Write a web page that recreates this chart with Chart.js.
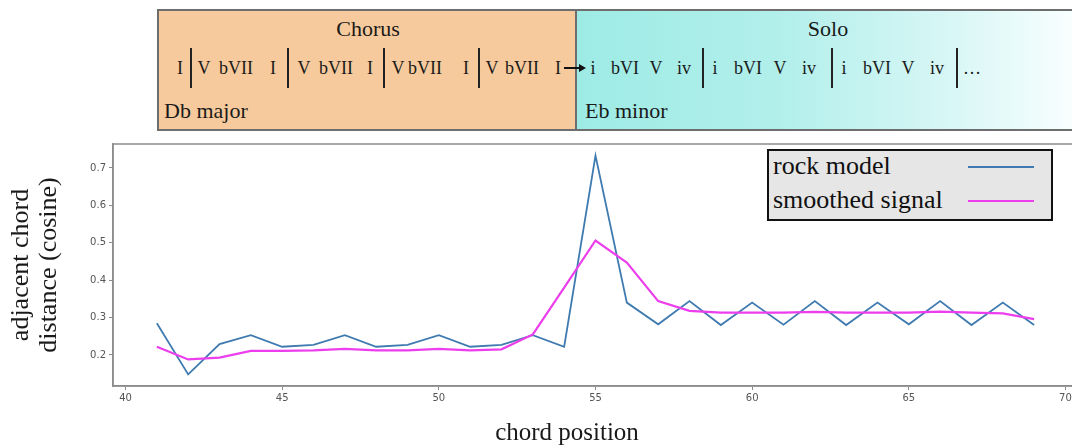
<!DOCTYPE html>
<html>
<head>
<meta charset="utf-8">
<script src="https://cdn.jsdelivr.net/npm/chart.js@4.4.1/dist/chart.umd.min.js"></script>
<style>
  html, body { margin: 0; padding: 0; width: 1072px; height: 448px; overflow: hidden; background: #fff; }
  .abs { position: absolute; }
  .serif { font-family: 'Liberation Serif', 'DejaVu Serif', serif; color: #1a1a1a; }
  #chorusBox { left: 157px; top: 9px; width: 420px; height: 122px; background: #f6ca9c; border: 2px solid #6e6e6e; box-sizing: border-box; }
  #soloBox { left: 575px; top: 9px; width: 510px; height: 122px; border: 2px solid #6e6e6e; box-sizing: border-box;
    background: linear-gradient(90deg, #9eebe5 0%, #b2efeb 40%, #d9f7f6 75%, #fbffff 100%); }
  .sectionTitle { font-size: 22px; transform: translate(-50%, -50%); }
  .keyName { font-size: 22px; transform: translateY(-50%); }
  .chord { font-size: 18px; transform: translate(-50%, -50%); top: 68px; white-space: nowrap; }
  .bar { width: 1.6px; top: 48px; height: 40px; background: #222; }
  #chartWrap { left: 0; top: 0; width: 1090px; height: 448px; }
  #legendBox { left: 767px; top: 149px; width: 286px; height: 72px; background: #e6e6e6; border: 2px solid #111; box-sizing: border-box; }
  .legendRow { position: absolute; left: 4px; font-family: 'Liberation Serif', serif; font-size: 26px; color: #111; white-space: nowrap; transform: translateY(-50%); }
  .legendLine { position: absolute; left: 199px; width: 66px; height: 2px; transform: translateY(-50%); }
  #xTitle { left: 567px; top: 432px; font-size: 25px; transform: translate(-50%, -50%); white-space: nowrap; }
</style>
</head>
<body>
<div id="chartWrap" class="abs"><canvas id="graficoAcordes" width="1090" height="448"></canvas></div>

<div id="chorusBox" class="abs"></div>
<div id="soloBox" class="abs"></div>
<div class="abs serif sectionTitle" style="left:368px; top:29px;">Chorus</div>
<div class="abs serif sectionTitle" style="left:828px; top:29px;">Solo</div>
<div class="abs serif keyName" style="left:164px; top:111px;">Db major</div>
<div class="abs serif keyName" style="left:585px; top:111px;">Eb minor</div>
<div id="chordRow"></div>
<div class="abs" style="left:564px; top:67px; width:16px; height:1.6px; background:#111;"></div>
<div class="abs" style="left:579px; top:64px; width:0; height:0; border-top:4px solid transparent; border-bottom:4px solid transparent; border-left:7px solid #111;"></div>

<div id="legendBox" class="abs"></div>
<div id="xTitle" class="abs serif">chord position</div>

<script>
// --- data ---
const chordPos = [41, 42, 43, 44, 45, 46, 47, 48, 49, 50, 51, 52, 53, 54, 55, 56, 57, 58, 59, 60, 61, 62, 63, 64, 65, 66, 67, 68, 69];
const rockModel = [0.285, 0.148, 0.229, 0.253, 0.222, 0.227, 0.253, 0.222, 0.227, 0.253, 0.222, 0.227, 0.253, 0.222,
                   0.733, 0.340, 0.282, 0.344, 0.280, 0.340, 0.281, 0.344, 0.280, 0.340, 0.282, 0.344, 0.280, 0.340, 0.280];
const smoothedSignal = [0.222, 0.188, 0.193, 0.211, 0.211, 0.212, 0.216, 0.212, 0.212, 0.216, 0.212, 0.215, 0.255, 0.380,
                        0.506, 0.447, 0.344, 0.318, 0.313, 0.313, 0.313, 0.315, 0.313, 0.313, 0.313, 0.316, 0.313, 0.311, 0.296];
const xTicks = [40, 45, 50, 55, 60, 65, 70];
const yTicks = [0.2, 0.3, 0.4, 0.5, 0.6, 0.7];

// chord symbols of the banner [text, center x]
const chordSymbols = [
    ['I', 180], ['V', 204], ['bVII', 236], ['I', 273], ['V', 304], ['bVII', 336], ['I', 370],
    ['V', 398], ['bVII', 425], ['I', 466], ['V', 492], ['bVII', 522], ['I', 558],
    ['i', 593], ['bVI', 625], ['V', 656], ['iv', 684], ['i', 715], ['bVI', 748], ['V', 780], ['iv', 809],
    ['i', 844], ['bVI', 877], ['V', 908], ['iv', 937], ['…', 972]
];
const barLines = [190, 287, 383, 478, 702, 831, 956];

document.addEventListener('DOMContentLoaded', function() {

    // --- 1. banner ---
    const row = document.getElementById('chordRow');
    chordSymbols.forEach(function(c) {
        const s = document.createElement('div');
        s.className = 'abs serif chord';
        s.style.left = c[1] + 'px';
        s.textContent = c[0];
        row.appendChild(s);
    });
    barLines.forEach(function(x) {
        const b = document.createElement('div');
        b.className = 'abs bar';
        b.style.left = x + 'px';
        row.appendChild(b);
    });

    // --- 2. line chart ---
    const axisColor = '#8c8c8c';
    const tickFont = { family: "'DejaVu Sans', sans-serif", size: 10 };

    const frame = {
        id: 'frame',
        afterDraw: function(chart) {
            const a = chart.chartArea;
            const ctx = chart.ctx;
            ctx.save();
            ctx.strokeStyle = axisColor;
            ctx.lineWidth = 1.5;
            ctx.strokeRect(a.left, a.top, a.right - a.left, a.bottom - a.top);
            ctx.restore();
        }
    };

    const chart = new Chart(document.getElementById('graficoAcordes'), {
        type: 'line',
        data: {
            datasets: [
                {
                    label: 'rock model',
                    data: chordPos.map((x, i) => ({ x: x, y: rockModel[i] })),
                    borderColor: '#3f7bb0',
                    borderWidth: 1.8,
                    pointRadius: 0,
                    order: 1
                },
                {
                    label: 'smoothed signal',
                    data: chordPos.map((x, i) => ({ x: x, y: smoothedSignal[i] })),
                    borderColor: '#ec3eec',
                    borderWidth: 2.2,
                    pointRadius: 0,
                    order: 0
                }
            ]
        },
        options: {
            responsive: false,
            animation: false,
            devicePixelRatio: 1,
            layout: { padding: { top: 144, right: 12, left: 0, bottom: 0 } },
            plugins: { legend: { display: false }, tooltip: { enabled: false } },
            scales: {
                x: {
                    type: 'linear',
                    min: 39.6,
                    max: 70.4,
                    afterBuildTicks: s => { s.ticks = xTicks.map(v => ({ value: v })); },
                    afterFit: s => { s.height = 62; },
                    grid: { drawOnChartArea: false, drawTicks: true, tickLength: 4, tickColor: axisColor },
                    border: { color: axisColor, width: 1.5 },
                    ticks: { font: tickFont, color: '#555', padding: 2, maxRotation: 0 }
                },
                y: {
                    min: 0.117,
                    max: 0.764,
                    afterBuildTicks: s => { s.ticks = yTicks.map(v => ({ value: v })); },
                    afterFit: s => { s.width = 113; },
                    grid: { drawOnChartArea: false, drawTicks: true, tickLength: 4, tickColor: axisColor },
                    border: { color: axisColor, width: 1.5 },
                    ticks: { font: tickFont, color: '#555', padding: 3, callback: v => v.toFixed(1) },
                    title: {
                        display: true,
                        text: ['adjacent chord', 'distance (cosine)'],
                        color: '#1a1a1a',
                        font: { family: "'Liberation Serif', serif", size: 26, lineHeight: 1.05 },
                        padding: { top: 8, bottom: 0 }
                    }
                }
            }
        },
        plugins: [frame]
    });

    // --- 3. legend from the datasets ---
    const box = document.getElementById('legendBox');
    chart.data.datasets.forEach(function(ds, i) {
        const cy = 15 + i * 34;
        const t = document.createElement('div');
        t.className = 'legendRow';
        t.style.top = cy + 'px';
        t.textContent = ds.label;
        box.appendChild(t);
        const l = document.createElement('div');
        l.className = 'legendLine';
        l.style.top = (cy + 1) + 'px';
        l.style.background = ds.borderColor;
        box.appendChild(l);
    });
});
</script>
</body>
</html>
